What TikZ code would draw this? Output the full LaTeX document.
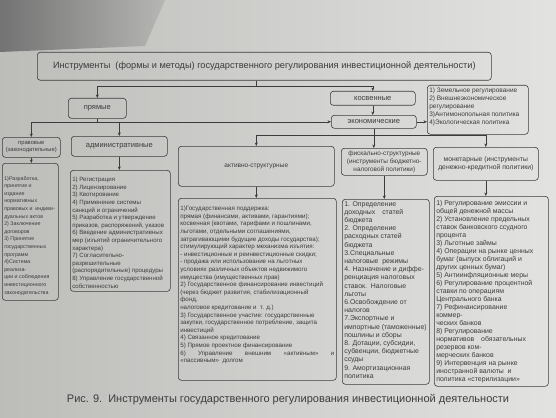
\documentclass[tikz,border=0pt]{standalone}
\usepackage{fontspec}
\setmainfont{Liberation Sans}
\usetikzlibrary{arrows.meta,calc}

\definecolor{paper}{RGB}{214,214,211}
\definecolor{ink}{RGB}{60,60,60}

\newcommand{\fsz}[2]{\fontsize{#1}{#2}\selectfont}
\newcommand{\listtxt}[4]{\parbox[t][#2][t]{#1}{\raggedright\vspace*{#3}#4}}

\tikzset{
  box/.style={draw=ink, rounded corners=3pt, line width=0.6pt, anchor=north west, inner sep=1pt, align=center, text=ink},
  listbox/.style={draw=ink, rounded corners=3pt, line width=0.6pt, anchor=north west, inner sep=2pt, text=ink},
  link/.style={draw=ink, line width=0.6pt}
}

\begin{document}
\begin{tikzpicture}[x=1pt, y=-1pt, >={Stealth[length=3.5pt,width=3pt]}]
  % Paper
  \useasboundingbox (0,0) rectangle (556,417);
  \shade[left color=paper!88!black, right color=paper!70!white] (0,0) rectangle (556,417);
  \shade[left color=black!55, right color=paper!85!black] (0,0) -- (165,0) -- (145,46) -- (0,52) -- cycle;

  % Top level
  \node[box, minimum width=454pt, minimum height=28pt, font=\fsz{9.2}{11}] (title) at (37,52) {Инструменты\ \ (формы и методы) государственного регулирования инвестиционной деятельности)};
  \node[box, minimum width=58pt, minimum height=20pt, font=\fsz{7.5}{9}] (pryamye) at (68,98) {прямые};
  \node[box, minimum width=85pt, minimum height=14pt, font=\fsz{7.5}{9}] (kosv) at (330,91) {косвенные};
  \node[box, minimum width=85pt, minimum height=13pt, font=\fsz{7.5}{9}] (econ) at (331,115) {экономические};
  \node[listbox, font=\fsz{6.5}{8.2}] (econlist) at (427,85) {\listtxt{97pt}{45pt}{0pt}{1) Земельное регулирование\\ 2) Внешнеэкономическое\\ регулирование\\ 3)Антимонопольная политика\\ 4)Экологическая политика}};

  % Second level
  \node[box, minimum width=58pt, minimum height=20pt, font=\fsz{5.8}{7}] (pravo) at (2,137) {правовые\\(законодательные)};
  \node[box, minimum width=96pt, minimum height=20pt, font=\fsz{7.5}{9}] (admin) at (71,136) {административные};
  \node[box, minimum width=156pt, minimum height=40pt, font=\fsz{6.5}{8}] (aktiv) at (178,146) {активно-структурные};
  \node[box, minimum width=86pt, minimum height=27pt, font=\fsz{6.4}{7.8}] (fisk) at (341,148) {фискально-структурные\\(инструменты бюджетно-\\налоговой политики)};
  \node[box, minimum width=105pt, minimum height=33pt, font=\fsz{6.8}{8.4}] (monet) at (433,147) {монетарные (инструменты\\денежно-кредитной политики)};

  % Lists
  \node[listbox, font=\fsz{5.3}{7.6}] (pravolist) at (2,163) {\listtxt{52pt}{133pt}{11pt}{1)Разработка,\\ принятие и\\ издание\\ нормативных\\ правовых и\ \ индиви-\\ дуальных актов\\ 2) Заключение\\ договоров\\ 3) Принятие\\ государственных\\ программ\\ 4)Система\\ реализа-\\ ции и соблюдения\\ инвестиционного\\ законодательства}};
  \node[listbox, font=\fsz{6.1}{7.6}] (adminlist) at (70,170) {\listtxt{96pt}{117pt}{5pt}{1) Регистрация\\ 2) Лицензирование\\ 3) Квотирование\\ 4) Применение системы\\ санкций и ограничений\\ 5) Разработка и утверждение\\ приказов, распоряжений, указов\\ 6) Введение административных\\ мер (изъятий ограничительного\\ характера)\\ 7) Согласительно-\\ разрешительные\\ (распорядительные) процедуры\\ 8) Управление государственной\\ собственностью}};
  \node[listbox, font=\fsz{6.2}{7.6}] (aktivlist) at (178,198) {\listtxt{154pt}{178pt}{6pt}{1)Государственная поддержка:\\ прямая (финансами, активами, гарантиями);\\ косвенная (квотами, тарифами и пошлинами,\\ льготами, отдельными соглашениями,\\ затрагивающими будущие доходы государства);\\ стимулирующий характер механизма изъятия:\\ - инвестиционные и реинвестиционные скидки;\\ - продажа или использование на льготных\\ условиях различных объектов недвижимого\\ имущества (имущественных прав)\\ 2) Государственное финансирование инвестиций\\ (через бюджет развития, стабилизационный\\ фонд,\\ налоговое кредитование и\ \ т. д.)\\ 3) Государственное участие: государственные\\ закупки, государственное потребление, защита\\ инвестиций\\ 4) Связанное кредитование\\ 5) Прямое проектное финансирование\\ 6)\hfill Управление\hfill внешним\hfill «активным»\hfill и\\ «пассивным»\ \ долгом}};
  \node[listbox, font=\fsz{6.9}{8.2}] (fisklist) at (342,199) {\listtxt{83pt}{181pt}{0pt}{1. Определение\\ доходных\quad статей\\ бюджета\\ 2. Определение\\ расходных статей\\ бюджета\\ 3.Специальные\\ налоговые\ \ режимы\\ 4. Назначение и диффе-\\ ренциация налоговых\\ ставок.\ \ Налоговые\\ льготы\\ 6.Освобождение от\\ налогов\\ 7.Экспортные и\\ импортные (таможенные)\\ пошлины и сборы\\ 8. Дотации, субсидии,\\ субвенции, бюджетные\\ ссуды\\ 9. Амортизационная\\ политика}};
  \node[listbox, font=\fsz{6.9}{8.0}] (monetlist) at (434,196) {\listtxt{110pt}{186pt}{2pt}{1) Регулирование эмиссии и\\ общей денежной массы\\ 2) Установление предельных\\ ставок банковского ссудного\\ процента\\ 3) Льготные займы\\ 4) Операции на рынке ценных\\ бумаг (выпуск облигаций и\\ других ценных бумаг)\\ 5) Антиинфляционные меры\\ 6) Регулирование процентной\\ ставки по операциям\\ Центрального банка\\ 7) Рефинансирование\\ коммер-\\ ческих банков\\ 8) Регулирование\\ нормативов\quad обязательных\\ резервов ком-\\ мерческих банков\\ 9) Интервенция на рынке\\ иностранной валюты\ \ и\\ политика «стерилизации»}};

  % Caption
  \node[text=ink, font=\fsz{11}{13}] (caption) at (288,400) {Рис. 9.\ \ Инструменты государственного регулирования инвестиционной деятельности};

  % Connectors
  \coordinate (bus1) at (256,86);
  \draw[link] (bus1 |- title.south) -- (bus1);
  \draw[link,->] (bus1) -| (pryamye.north);
  \draw[link,->] (bus1) -| (kosv.north);
  \draw[link,->] (kosv.south) -- (kosv.south |- econ.north);
  \draw[link,->] (pryamye.south) |- (econ.west);
  \draw[link,->] (pryamye.south |- econ.west) -| (pravo.north);
  \draw[link,->] (pryamye.south |- econ.west) -| (admin.north);
  \draw[link,->] (econ.east) -- (econ.east -| econlist.west);
  \draw[link] (econ.south) -- ++(0,7) coordinate (bus3);
  \draw[link,->] (bus3) -| (aktiv.north);
  \draw[link,->] (bus3) -- (bus3 |- fisk.north);
  \draw[link,->] (bus3) -| (monet.north);
  \foreach \a in {pravo, admin, aktiv, fisk, monet}
    \draw[link,->] (\a.south) -- (\a.south |- \a list.north);
\end{tikzpicture}
\end{document}
